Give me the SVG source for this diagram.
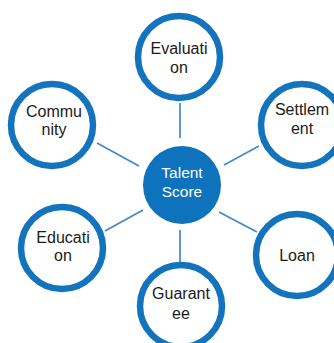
<svg xmlns="http://www.w3.org/2000/svg" width="334" height="343" viewBox="0 0 334 343">
<style>
.ring{fill:#ffffff;stroke:#1373bc;stroke-width:6.5}
.hub{fill:#0f72bd}
.lbl{font-family:"Liberation Sans",Arial,sans-serif;font-size:16px;fill:#1a1a1a;text-anchor:middle}
.hubt{font-family:"Liberation Sans",Arial,sans-serif;font-size:15.5px;fill:#ffffff;text-anchor:middle}
.edge{stroke:#4389c6;stroke-width:1.7;fill:none}
</style>
<rect width="334" height="343" fill="#ffffff"/>
<g id="connectors">
<line class="edge" x1="180" y1="103" x2="180" y2="138"/>
<line class="edge" x1="97" y1="143" x2="139" y2="166"/>
<line class="edge" x1="224" y1="165" x2="259" y2="146"/>
<line class="edge" x1="105" y1="231" x2="143" y2="210"/>
<line class="edge" x1="219" y1="212" x2="257" y2="232"/>
<line class="edge" x1="180" y1="230" x2="180" y2="262"/>
</g>
<g id="center">
<circle class="hub" cx="182" cy="185" r="39"/>
<text class="hubt" x="182" y="178">Talent</text>
<text class="hubt" x="182" y="197">Score</text>
</g>
<g id="evaluation">
<circle class="ring" cx="179" cy="57" r="41"/>
<text class="lbl" x="179" y="54">Evaluati</text>
<text class="lbl" x="179" y="73">on</text>
</g>
<g id="community">
<circle class="ring" cx="52" cy="125" r="41"/>
<text class="lbl" x="54" y="117">Commu</text>
<text class="lbl" x="54" y="135">nity</text>
</g>
<g id="settlement">
<circle class="ring" cx="302" cy="125" r="41"/>
<text class="lbl" x="302" y="115">Settlem</text>
<text class="lbl" x="302" y="134">ent</text>
</g>
<g id="education">
<circle class="ring" cx="62" cy="248" r="41"/>
<text class="lbl" x="63" y="243">Educati</text>
<text class="lbl" x="63" y="261">on</text>
</g>
<g id="loan">
<circle class="ring" cx="297" cy="255" r="41"/>
<text class="lbl" x="297" y="261">Loan</text>
</g>
<g id="guarantee">
<circle class="ring" cx="181" cy="306" r="41"/>
<text class="lbl" x="181" y="299">Guarant</text>
<text class="lbl" x="181" y="319">ee</text>
</g>
</svg>
